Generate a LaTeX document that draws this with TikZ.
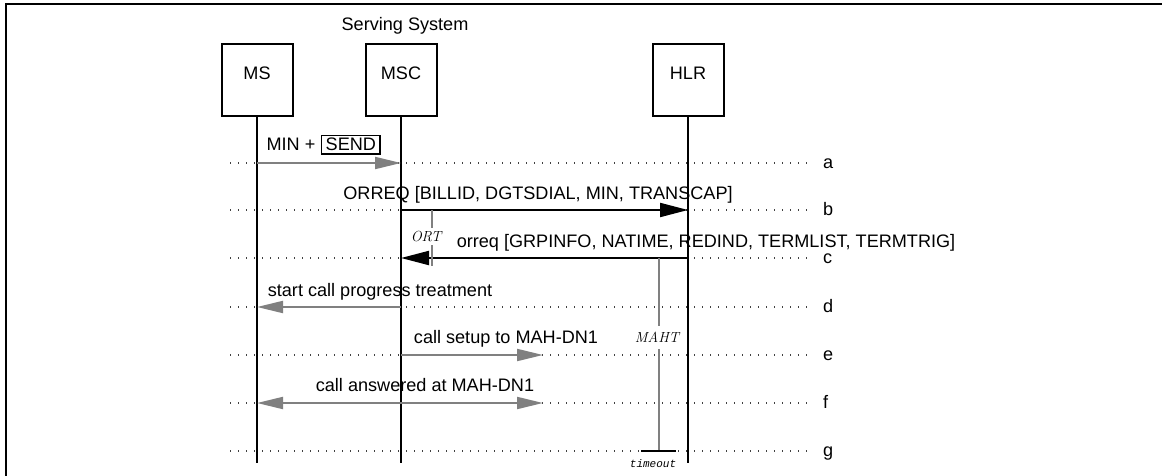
\documentclass[tikz,border=0pt]{standalone}
\usepackage{fontspec}
\setsansfont{Liberation Sans}
\setmonofont{Liberation Mono}
\usetikzlibrary{arrows.meta}
\definecolor{arrgray}{RGB}{128,128,128}
\begin{document}
\begin{tikzpicture}[x=1pt,y=-1pt,
  font=\sffamily\fontsize{18.1}{20}\selectfont,
  entity/.style={draw,line width=2pt,minimum width=71pt,minimum height=72pt,inner sep=0pt},
  etext/.style={anchor=base,inner sep=0pt},
  life/.style={line width=2pt},
  msgg/.style={draw=arrgray,line width=2pt,-{Triangle[length=26pt,width=12pt]}},
  msgb/.style={draw=black,line width=2pt,-{Triangle[length=28pt,width=14pt]}},
  guide/.style={line width=1.3pt,dash pattern=on 1.3pt off 6.7pt,black!75},
  lbl/.style={anchor=base,inner sep=0pt},
  rowlbl/.style={anchor=base west,inner sep=0pt},
  timer/.style={draw=arrgray,line width=1.8pt},
  tlabel/.style={anchor=base,inner sep=0pt,font=\rmfamily\itshape\fontsize{14.6}{16}\selectfont},
  tolabel/.style={anchor=base,inner sep=0pt,font=\ttfamily\itshape\fontsize{11}{12}\selectfont},
  sendbox/.style={draw,line width=1.4pt,inner xsep=4pt,inner ysep=3pt}]
\useasboundingbox (0,0) rectangle (1162,476);
% frame
\draw[line width=2.2pt] (6,480) -- (6,4) -- (1166,4);

% title
\node[lbl] (serving) at (405,31) {Serving System};

% entities
\node[entity] (ms)  at (257,80) {};
\node[entity] (msc) at (401,80) {};
\node[entity] (hlr) at (688,80) {};
\node[etext] (mst)  at (257,80) {MS};
\node[etext] (msct) at (401,80) {MSC};
\node[etext] (hlrt) at (688,80) {HLR};

% row coordinates and guides
\foreach \r/\y in {a/163,b/210,c/258,d/307,e/355,f/403,g/451}{
  \coordinate (start\r) at (230,\y);
  \node[rowlbl] (l\r) at (823,\y+5) {\r};
  \draw[guide] (start\r) -- (813,\y);
}

% lifelines
\coordinate (bottom) at (0,463);
\draw[life] (ms.south)  -- (ms.south |- bottom);
\draw[life] (msc.south) -- (msc.south |- bottom);
\draw[life] (hlr.south) -- (hlr.south |- bottom);

% messages
\coordinate (mahdn) at (543,0);
\draw[msgg] (ms.south |- starta) -- (msc.south |- starta);
\node[lbl] (mina) at (291,151) {MIN +};
\node[sendbox,anchor=base west] (send) at (321,151) {SEND};

\draw[msgb] (msc.south |- startb) -- (hlr.south |- startb);
\node[lbl] (orreq) at (538,199.5) {ORREQ [BILLID, DGTSDIAL, MIN, TRANSCAP]};

\draw[msgb] (hlr.south |- startc) -- (msc.south |- startc);
\node[lbl] (orreqr) at (706,247) {orreq [GRPINFO, NATIME, REDIND, TERMLIST, TERMTRIG]};

\draw[msgg] (msc.south |- startd) -- (ms.south |- startd);
\node[lbl] (scpt) at (380,296) {start call progress treatment};

\draw[msgg] (msc.south |- starte) -- (mahdn |- starte);
\node[lbl] (cs) at (506,343) {call setup to MAH-DN1};

\draw[msgg,{Triangle[length=26pt,width=12pt]}-{Triangle[length=26pt,width=12pt]}] (ms.south |- startf) -- (mahdn |- startf);
\node[lbl] (ca) at (425,391) {call answered at MAH-DN1};

% ORT timer
\coordinate (ortx) at (432,0);
\node[tlabel] (ort) at (426,241) {ORT};
\draw[timer] (ortx |- startb) -- (432,228);
\draw[timer] (432,245) -- (432,266);

% MAHT timer
\coordinate (mahtx) at (659,0);
\node[tlabel] (maht) at (657,342) {MAHT};
\draw[timer] (mahtx |- startc) -- (659,326);
\draw[timer] (659,349) -- (mahtx |- startg);
\draw[line width=2.6pt] (641,451) -- (676,451);
\node[tolabel] (timeout) at (653,467) {timeout};
\end{tikzpicture}
\end{document}
